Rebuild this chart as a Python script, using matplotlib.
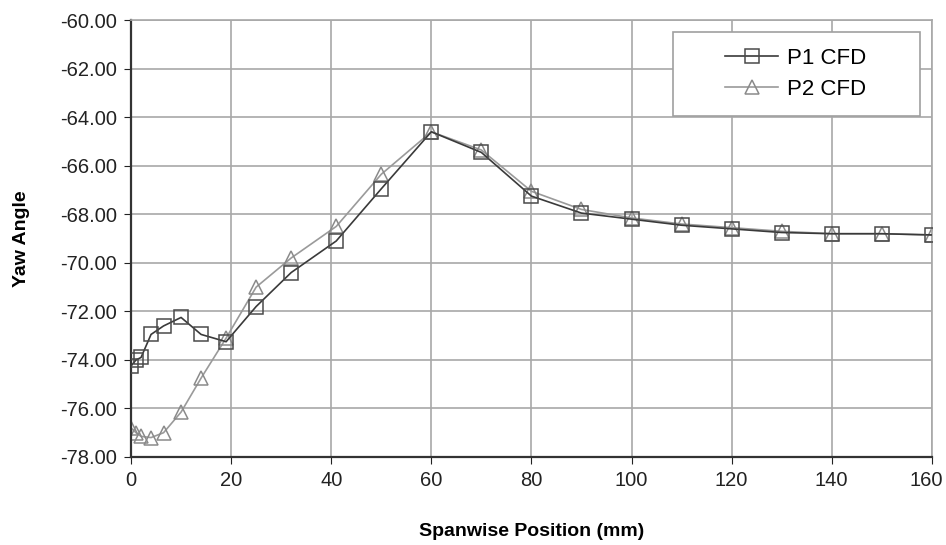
import matplotlib.pyplot as plt
import matplotlib.transforms as mtransforms
from matplotlib.patches import Rectangle
from matplotlib.ticker import FormatStrFormatter

plt.rcParams['font.family'] = ['Liberation Sans', 'DejaVu Sans']

# spanwise positions (mm)
pos = [0, 1, 2, 4, 6.5, 10, 14, 19, 25, 32, 41, 50, 60, 70, 80, 90, 100,
       110, 120, 130, 140, 150, 160]

p1_yaw = [-74.25, -74.0, -73.9, -72.95, -72.6, -72.25, -72.95, -73.25, -71.8, -70.4,
          -69.1, -66.95, -64.6, -65.45, -67.25, -67.95, -68.2,
          -68.45, -68.6, -68.75, -68.8, -68.8, -68.85]
p2_yaw = [-76.8, -77.0, -77.15, -77.2, -77.0, -76.15, -74.75, -73.1, -71.0, -69.8,
          -68.5, -66.35, -64.6, -65.35, -67.05, -67.8, -68.15,
          -68.4, -68.55, -68.7, -68.8, -68.8, -68.85]

fig = plt.figure(figsize=(9.46, 5.45), dpi=100)
ax = fig.add_axes([0.1385, 0.1615, 0.8465, 0.8015])

ax.plot(pos, p1_yaw, color='#3a3a3a', lw=1.2, marker='s', ms=10.5, mfc='none',
        mec='#4a4a4a', mew=1.1, label='P1 CFD', zorder=3)
ax.plot(pos, p2_yaw, color='#9a9a9a', lw=1.2, marker='^', ms=10.5, mfc='none',
        mec='#8a8a8a', mew=1.1, label='P2 CFD', zorder=2)

ax.set_xlim(0, 160)
ax.set_ylim(-78, -60)
ax.set_xticks(range(0, 161, 20))
ax.set_yticks(range(-78, -59, 2))
ax.yaxis.set_major_formatter(FormatStrFormatter('%.2f'))
ax.grid(True, color='#a8a8a8', lw=1.2)
ax.set_axisbelow(True)
ax.tick_params(labelsize=14.5, colors='#222222', length=5, direction='out', pad=5)

# nudge the last x label so it stays inside the picture
last = ax.get_xticklabels()[-1]
last.set_transform(last.get_transform() +
                   mtransforms.ScaledTranslation(-6 / 100, 0, fig.dpi_scale_trans))

for side in ['top', 'right']:
    ax.spines[side].set_color('#a8a8a8')
    ax.spines[side].set_linewidth(1.2)
for side in ['left', 'bottom']:
    ax.spines[side].set_color('#333333')
    ax.spines[side].set_linewidth(1.6)

ax.set_xlabel('Spanwise Position (mm)', fontsize=14, fontweight='bold', labelpad=24)
ax.set_ylabel('Yaw Angle', fontsize=14, fontweight='bold', labelpad=22)

# legend box drawn separately so the entries sit to the right like the original
ax.add_patch(Rectangle((0.677, 0.78), 0.308, 0.1925, transform=ax.transAxes,
                       facecolor='white', edgecolor='#a0a0a0', lw=1.2, zorder=4,
                       clip_on=False))
leg = ax.legend(loc='center', bbox_to_anchor=(0.83, 0.877), fontsize=16,
                frameon=False, handlelength=2.4, handletextpad=0.4,
                labelspacing=0.45)
leg.set_zorder(5)

fig.savefig('out.png', dpi=100)
